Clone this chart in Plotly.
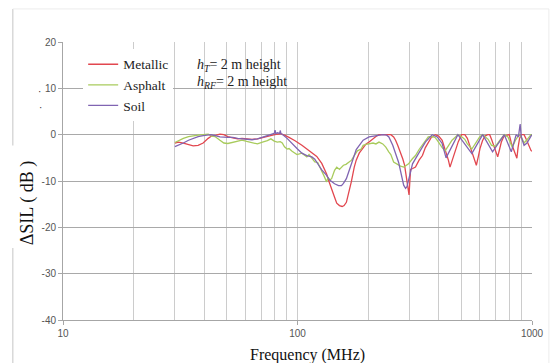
import plotly.graph_objects as go

# ---------------- data ----------------
metallic_freq = [30, 31.1, 32.6, 34.3, 35.9, 37.7, 39.6, 41.6, 43, 45, 46.7, 48.5, 50.5, 53, 55.6,
                 58, 61.3, 64, 67.5, 70.9, 74.4, 77, 80, 84.4, 88, 92, 97.6, 104.4, 109.6, 115,
                 120.8, 126.9, 130.6, 133.1, 136, 139.8, 143.9, 147, 151, 155, 158, 161.6, 164.8,
                 169.6, 174.6, 178, 183.3, 190.5, 196.1, 202, 210, 216, 222.6, 235, 250, 257, 262,
                 267.5, 275, 281, 286, 289, 293, 297, 299, 301, 303.5, 310, 318.5, 330, 341, 351,
                 361, 372, 387, 400, 414, 426, 440, 447, 458, 470, 485, 501, 517, 530, 545, 560,
                 579, 590, 600, 615, 630, 647, 660, 672, 690, 714, 727, 740, 760, 785, 800, 816,
                 840, 862, 872, 885, 900, 925, 945, 965, 990, 1000]
metallic_db = [-1.8, -1.6, -1.8, -2.2, -2.4, -2.3, -1.8, -0.8, -0.3, -0.1, 0.1, 0.0, -0.4, -0.7, -0.9,
               -0.8, -1.0, -1.0, -0.9, -0.6, -0.3, -0.1, 0.0, 0.2, -0.1, -0.6, -1.3, -2.3, -3.1, -3.8,
               -4.7, -6.2, -7.4, -8.5, -10.0, -11.5, -13.5, -14.8, -15.3, -15.5, -15.3, -14.6, -13.0,
               -10.2, -7.0, -5.5, -4.0, -2.7, -2.0, -1.6, -0.8, -0.4, 0.0, 0.0, 0.0, -0.5, -1.2,
               -2.3, -3.8, -5.2, -6.5, -8.0, -10.5, -12.7, -13.0, -10.5, -7.5, -7.3, -7.0, -5.5, -4.5, -2.8,
               -1.6, -0.6, 0.0, -0.3, -1.2, -3.0, -5.5, -7.0, -5.5, -3.5, -1.5, 0.0, 0.0, -0.8, -2.5, -4.3,
               -6.6, -4.8, -3.0, -1.3, -0.3, 0.0, 0.0, -1.0, -2.8, -4.8, -3.2, -1.6, -0.3, 0.0, 0.0, -1.8,
               -3.8, -5.1, -2.8, -0.8, 0.0, 0.0, -1.0, -2.2, -3.4, -3.6]

asphalt_freq = [30, 31.1, 32.6, 34.3, 35.9, 37.7, 39.6, 41.6, 43, 44.5, 46.7, 48.5, 50.5, 53, 55.6,
                58, 61.3, 64, 67.5, 70.9, 74.4, 77, 79.6, 82, 84.4, 86.1, 88, 90.3, 92, 94.8, 97.6,
                99.5, 104.4, 107, 109.6, 112, 115.1, 118.5, 122, 126.9, 130, 133.1, 135, 137, 139.8,
                143.9, 147, 151, 157, 161, 165, 170, 174.6, 180, 186.9, 190.5, 196.1, 202, 210, 216,
                222.6, 231, 238, 245, 250, 257, 265, 270, 275, 284, 290, 297.6, 309, 318.5, 330, 341,
                351, 361, 376, 386, 394, 405, 414, 426, 440, 456, 483, 500, 517, 530, 554, 575, 598,
                616, 650, 672, 700, 730, 762, 790, 816, 824, 850, 882, 900, 925, 955, 990, 1000]
asphalt_db = [-1.7, -1.3, -0.8, -0.4, -0.2, -0.1, 0.0, 0.1, -0.3, -0.4, -1.2, -1.8, -1.9, -1.6, -1.3,
              -1.2, -1.5, -1.7, -2.0, -1.6, -1.3, -0.9, -1.4, -1.6, -1.5, -1.8, -2.6, -3.1, -3.0, -3.6, -4.1,
              -4.3, -4.0, -4.5, -4.8, -4.3, -5.0, -5.9, -6.0, -7.7, -9.0, -10.2, -9.2, -9.8, -9.5,
              -7.7, -7.0, -7.5, -6.6, -6.4, -5.9, -5.5, -4.5, -3.5, -3.1, -2.3, -2.1, -2.0, -1.8, -2.0,
              -1.6, -2.0, -2.7, -3.7, -4.3, -5.9, -6.3, -6.6, -6.8, -7.0, -6.6, -6.3, -5.2, -4.5, -3.2, -2.3,
              -1.3, -0.5, -0.4, -0.6, -1.2, -2.2, -2.8, -3.5, -2.4, -1.2, 0.0, -0.4, -1.0, -2.0, -3.1, -1.8, -0.5,
              0.0, -1.0, -2.3, -2.5, -1.2, 0.0, -0.5, -2.0, -2.7, -1.2, 0.0, -0.5, -1.8, -1.0, 0.0, 0.0]

soil_freq = [30, 31.1, 32.6, 34.3, 35.9, 37.7, 39.6, 42.8, 44.5, 46.7, 50.5, 53, 55.6, 58, 61.3,
             64, 67.5, 70.9, 74.4, 76.6, 79.6, 80.2, 80.8, 82, 84.0, 84.4, 85, 86.1, 90.3, 94.8,
             99.5, 104.4, 109.6, 115.1, 118.5, 123.1, 126.9, 133.1, 137.1, 143.9, 149.6, 154, 157,
             161.6, 164.8, 169.6, 174.6, 178, 183.3, 190.5, 202, 216, 231.3, 240, 245.2, 254.8,
             262.3, 270, 275.4, 283.6, 289.1, 293, 297.6, 309.4, 328, 351, 375.6, 394.3, 413.9,
             430, 483, 554, 616, 679, 762, 816, 856, 875, 890, 900, 925, 952, 990, 1000]
soil_db = [-2.6, -2.3, -1.8, -1.2, -0.8, -0.4, -0.2, 0.0, -0.2, -0.5, -0.6, -0.6, -0.8, -0.9, -1.0,
           -1.1, -0.9, -0.6, -0.3, 0.0, 0.3, 1.0, 0.2, 0.4, 0.3, 0.9, 0.2, 0.1, -0.8, -2.0,
           -3.0, -4.0, -4.5, -4.8, -5.3, -6.6, -7.6, -8.8, -9.8, -10.6, -11.0, -11.0, -10.5,
           -9.5, -8.1, -6.5, -4.5, -3.2, -2.3, -1.2, -0.5, -0.3, 0.0, -0.1, -0.5, -2.3,
           -4.1, -6.0, -8.0, -10.9, -11.6, -11.2, -9.8, -6.3, -4.1, -1.6, 0.0, -0.5, -1.9,
           -5.0, 0.0, -4.1, 0.0, -3.7, 0.0, -3.7, 0.0, -0.5, 2.3, -0.5, -2.3, -1.8, -0.3, 0.0]

y_tickvals = [-40, -30, -20, -10, 0, 10, 20]
y_ticktext = ["-40", "-30", "-20", "-10", "0", "10", "20"]
x_tickvals = [10, 100, 1000]
x_ticktext = ["10", "100", "1000"]
x_minor = [20, 30, 40, 50, 60, 70, 80, 90, 200, 300, 400, 500, 600, 700, 800, 900]

series = [
    ("Metallic", metallic_freq, metallic_db, "#E2474F"),
    ("Asphalt", asphalt_freq, asphalt_db, "#A8CB5C"),
    ("Soil", soil_freq, soil_db, "#8064B2"),
]

fig = go.Figure()
for name, fx, fy, col in series:
    fig.add_trace(go.Scatter(x=fx, y=fy, mode="lines", name=name,
                             line=dict(color=col, width=1.3)))

SERIF = "Liberation Serif, Times New Roman, serif"
SANS = "Liberation Sans, Arial, sans-serif"

fig.update_layout(
    width=556, height=363,
    margin=dict(l=63, r=18, t=42, b=43),
    paper_bgcolor="white", plot_bgcolor="white",
    showlegend=True,
    legend=dict(x=0.043, y=0.975, xanchor="left", yanchor="top",
                bgcolor="white", borderwidth=0,
                font=dict(family=SERIF, size=13.5, color="#222"),
                tracegroupgap=0, itemwidth=30),
    xaxis=dict(type="log", range=[1, 3], tickmode="array", tickvals=x_tickvals,
               ticktext=x_ticktext, showgrid=True, gridcolor="#cccccc", gridwidth=1.3,
               minor=dict(tickmode="array", tickvals=x_minor, showgrid=True,
                          gridcolor="#cccccc", gridwidth=1.3),
               showline=True, linecolor="#a6a6a6", ticks="outside", ticklen=4,
               tickcolor="#a6a6a6", zeroline=False,
               tickfont=dict(family=SANS, size=10, color="#555")),
    yaxis=dict(range=[-40, 20], tickmode="array", tickvals=y_tickvals, ticktext=y_ticktext,
               showgrid=True, gridcolor="#a9a9a9", gridwidth=1, zeroline=False,
               showline=True, linecolor="#a6a6a6", ticks="outside", ticklen=4,
               tickcolor="#a6a6a6",
               tickfont=dict(family=SANS, size=10, color="#555")),
)

# outer frame of the original figure (left edge interrupted by the axis title)
fig.add_shape(type="line", xref="paper", yref="paper", x0=-0.107, x1=-0.107, y0=0.628, y1=1.119,
              line=dict(color="#cfcfcf", width=1.2))
fig.add_shape(type="line", xref="paper", yref="paper", x0=-0.107, x1=-0.107, y0=-0.2, y1=0.259,
              line=dict(color="#cfcfcf", width=1.2))
fig.add_shape(type="line", xref="paper", yref="paper", x0=-0.107, x1=1.036, y0=1.119, y1=1.119,
              line=dict(color="#ececec", width=1))
fig.add_shape(type="line", xref="paper", yref="paper", x0=1.036, x1=1.036, y0=-0.2, y1=1.119,
              line=dict(color="#ececec", width=1))

fig.add_annotation(xref="paper", yref="paper", x=0.282, y=0.917, xanchor="left", yanchor="middle",
                   text="<i>h<sub>T</sub></i>= 2 m height", showarrow=False,
                   font=dict(family=SERIF, size=14, color="#222"))
fig.add_annotation(xref="paper", yref="paper", x=0.282, y=0.853, xanchor="left", yanchor="middle",
                   text="<i>h<sub>RF</sub></i>= 2 m height", showarrow=False,
                   font=dict(family=SERIF, size=14, color="#222"))
fig.add_annotation(xref="paper", yref="paper", x=0.522, y=-0.126, xanchor="center", yanchor="middle",
                   text="Frequency (MHz)", showarrow=False,
                   font=dict(family=SERIF, size=16, color="#111"))
fig.add_annotation(xref="paper", yref="paper", x=-0.074, y=0.421, xanchor="center", yanchor="middle",
                   text="ΔSIL ( dB )", textangle=-90, showarrow=False,
                   font=dict(family=SERIF, size=18, color="#111"))
fig.add_annotation(xref="paper", yref="paper", x=-0.057, y=0.85, text="·", showarrow=False,
                   font=dict(family=SANS, size=10, color="#333"))
fig.add_annotation(xref="paper", yref="paper", x=-0.055, y=0.79, text="·", showarrow=False,
                   font=dict(family=SANS, size=10, color="#333"))

fig.write_html("out.html")
